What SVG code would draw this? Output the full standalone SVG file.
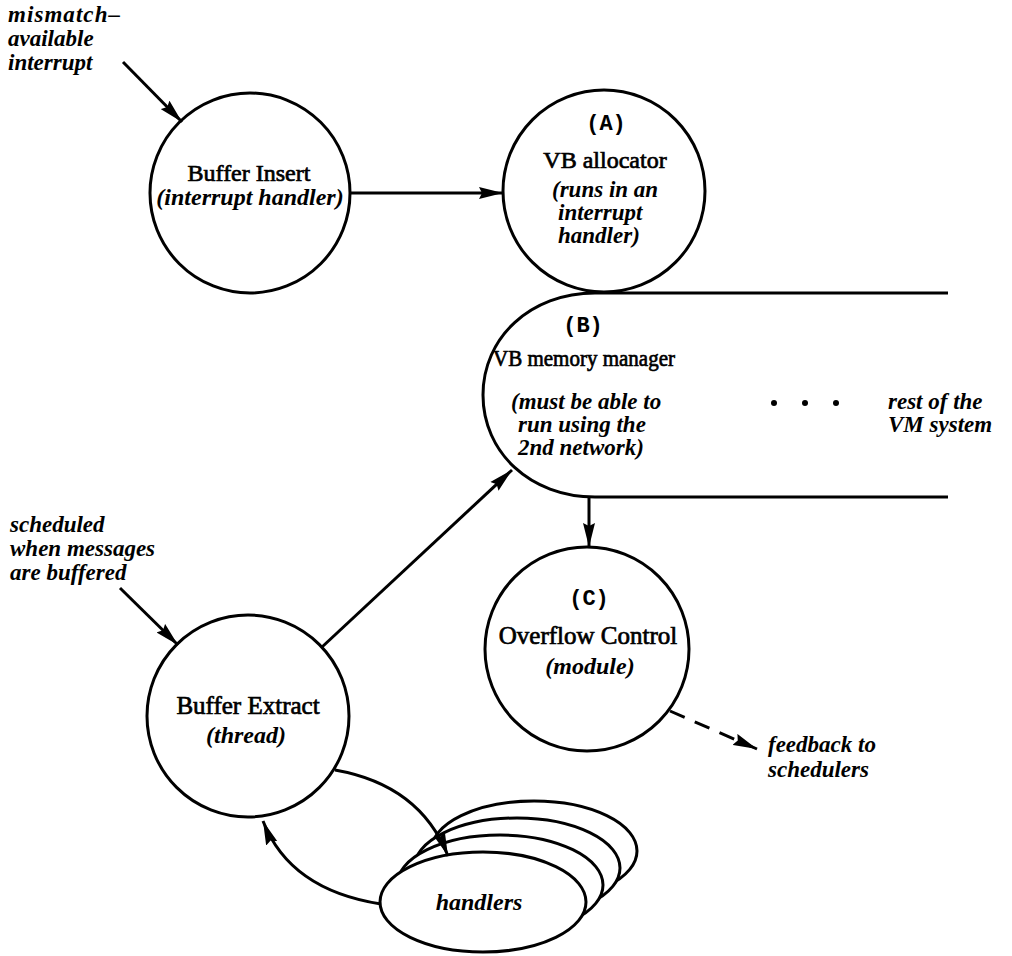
<svg xmlns="http://www.w3.org/2000/svg" width="1012" height="956" viewBox="0 0 1012 956">
  <style>
    .shape { fill: #fff; stroke: #000; stroke-width: 3; }
    .edge { fill: none; stroke: #000; stroke-width: 3; }
    .dash { stroke-dasharray: 16 11; }
    .lbl { font-family: "Liberation Serif", "Times New Roman", serif; font-size: 24px; fill: #000; stroke: #000; stroke-width: 0.7; text-anchor: middle; }
    .it { font-family: "Liberation Serif", "Times New Roman", serif; font-size: 23px; font-style: italic; font-weight: bold; fill: #000; }
    .big { font-size: 24px; }
    .tag { font-family: "Liberation Mono", "Courier New", monospace; font-size: 22px; font-weight: bold; fill: #000; text-anchor: middle; }
    .mid { text-anchor: middle; }
  </style>
  <defs>
    <marker id="arrow" viewBox="0 0 24 13" refX="24" refY="6.5" markerWidth="24" markerHeight="13" markerUnits="userSpaceOnUse" orient="auto">
      <path d="M0,0.5 L24,6.5 L0,12.5 L3,6.5 Z" fill="#000"/>
    </marker>
  </defs>

  <!-- free-standing annotations -->
  <g id="note-interrupt">
    <text class="it" x="8" y="22" textLength="112">mismatch–</text>
    <text class="it" x="8" y="46">available</text>
    <text class="it" x="8" y="70">interrupt</text>
  </g>
  <g id="note-scheduled">
    <text class="it" x="10" y="532">scheduled</text>
    <text class="it" x="10" y="556">when messages</text>
    <text class="it" x="10" y="580">are buffered</text>
  </g>
  <g id="note-feedback">
    <text class="it" x="768" y="752">feedback to</text>
    <text class="it" x="768" y="777">schedulers</text>
  </g>

  <!-- Buffer Insert -->
  <g id="buffer-insert">
    <circle class="shape" cx="250" cy="193" r="100"/>
    <text class="lbl" x="249" y="181">Buffer Insert</text>
    <text class="it big mid" x="250" y="205">(interrupt handler)</text>
  </g>

  <!-- (A) VB allocator -->
  <g id="vb-allocator">
    <circle class="shape" cx="604" cy="191" r="101"/>
    <text class="tag" x="606" y="130">(A)</text>
    <text class="lbl" x="605" y="168">VB allocator</text>
    <text class="it" x="552" y="197">(runs in an</text>
    <text class="it" x="558" y="220">interrupt</text>
    <text class="it" x="558" y="243">handler)</text>
  </g>

  <!-- (B) VB memory manager, open towards the rest of the VM system -->
  <g id="vb-memory-manager">
    <path class="edge" d="M948,293 H595 C530,293 483,338 483,395 C483,452 530,497 595,497 H948"/>
    <text class="tag" x="583" y="332">(B)</text>
    <text class="lbl" x="584" y="366" style="font-size:23px" textLength="182" lengthAdjust="spacingAndGlyphs">VB memory manager</text>
    <text class="it" x="511" y="409">(must be able to</text>
    <text class="it" x="518" y="432">run using the</text>
    <text class="it" x="518" y="455">2nd network)</text>
    <circle cx="774" cy="403" r="3" fill="#000"/>
    <circle cx="805" cy="403" r="3" fill="#000"/>
    <circle cx="836" cy="403" r="3" fill="#000"/>
    <text class="it" x="888" y="409">rest of the</text>
    <text class="it" x="888" y="432">VM system</text>
  </g>

  <!-- (C) Overflow Control -->
  <g id="overflow-control">
    <circle class="shape" cx="587" cy="649" r="102"/>
    <text class="tag" x="589" y="605">(C)</text>
    <text class="lbl" x="588" y="644" style="font-size:25px">Overflow Control</text>
    <text class="it big mid" x="590" y="674">(module)</text>
  </g>

  <!-- Buffer Extract -->
  <g id="buffer-extract">
    <circle class="shape" cx="248" cy="716" r="101"/>
    <text class="lbl" x="248" y="714" style="font-size:25px">Buffer Extract</text>
    <text class="it big mid" x="246" y="743">(thread)</text>
  </g>

  <!-- handlers: a stack of ellipses, drawn back to front -->
  <g id="handlers">
    <ellipse class="shape" cx="534" cy="851" rx="103" ry="50"/>
    <ellipse class="shape" cx="517" cy="868" rx="103" ry="50"/>
    <ellipse class="shape" cx="500" cy="885" rx="103" ry="50"/>
    <ellipse class="shape" cx="483" cy="902" rx="103" ry="50"/>
    <text class="it big mid" x="479" y="910">handlers</text>
  </g>

  <!-- connectors -->
  <g id="connectors">
    <line class="edge" x1="123" y1="62" x2="182" y2="122" marker-end="url(#arrow)"/>
    <line class="edge" x1="350" y1="193" x2="503" y2="193" marker-end="url(#arrow)"/>
    <line class="edge" x1="120" y1="588" x2="178" y2="645" marker-end="url(#arrow)"/>
    <line class="edge" x1="322" y1="647" x2="512" y2="470" marker-end="url(#arrow)"/>
    <line class="edge" x1="589" y1="497" x2="589" y2="547" marker-end="url(#arrow)"/>
    <line class="edge dash" x1="670" y1="711" x2="757" y2="749" marker-end="url(#arrow)"/>
    <path class="edge" d="M335,770 Q420,785 448,856" marker-end="url(#arrow)"/>
    <path class="edge" d="M381,904 Q290,890 263,821" marker-end="url(#arrow)"/>
  </g>
</svg>
